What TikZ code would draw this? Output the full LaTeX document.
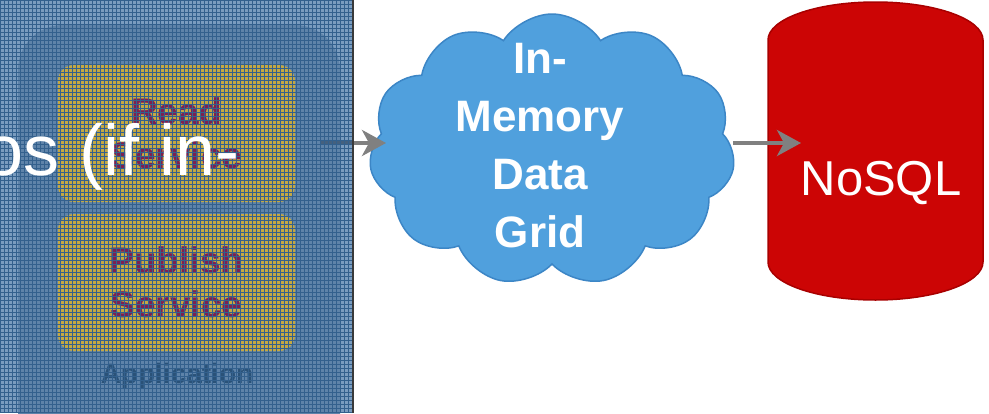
\documentclass[tikz,border=0pt]{standalone}
\usepackage{fontspec}
\setmainfont{Liberation Sans}
\usetikzlibrary{shapes.symbols,arrows.meta}
\definecolor{panelbase}{HTML}{7A9CBF}
\definecolor{appbase}{HTML}{5E83A9}
\definecolor{gridblue}{HTML}{33608D}
\definecolor{svcfill}{HTML}{C4A842}
\definecolor{svctext}{HTML}{7E2050}
\definecolor{apptext}{HTML}{2A5278}
\definecolor{cloudblue}{HTML}{50A0DD}
\definecolor{cloudedge}{HTML}{3C86C6}
\definecolor{nosqlred}{HTML}{CC0505}
\definecolor{nosqledge}{HTML}{A80000}
\definecolor{arrowgray}{HTML}{808080}
\definecolor{arrowhidden}{HTML}{44607E}
\definecolor{borderdark}{HTML}{3A3A3A}
\tikzset{
  svcbox/.style={rectangle, rounded corners=16pt, fill=svcfill, text=svctext,
    minimum width=237pt, minimum height=137pt, inner sep=0pt, align=center,
    font=\bfseries\fontsize{37}{44}\selectfont},
  conn/.style={line width=4pt, color=arrowgray,
    -{Stealth[length=24pt,width=26pt,inset=7pt]}},
  gridline/.style={line width=0.75pt, color=gridblue},
  cloudshape/.style={cloud, cloud puffs=11, cloud puff arc=115, cloud ignores aspect,
    minimum width=366pt, minimum height=272pt, fill=cloudblue, draw=cloudedge,
    line width=1.5pt, inner sep=0pt},
  cloudtext/.style={text=white, align=center, inner sep=0pt,
    font=\bfseries\fontsize{44}{58}\selectfont},
}
\begin{document}
\begin{tikzpicture}[x=1pt,y=-1pt]
\useasboundingbox (0,0) rectangle (989,413);
\fill[white] (0,0) rectangle (989,413);

% cloud
\node[cloudshape] (cloud) at (552,150) {};
\node[cloudtext] (cloudlabel) at (540,146) {In-\\Memory\\Data\\Grid};

% NoSQL cylinder
\path[fill=nosqlred, draw=nosqledge, line width=1.5pt]
  (768,262) -- (768,40)
  arc[start angle=180, end angle=360, x radius=107.5, y radius=38]
  -- (983,262)
  arc[start angle=0, end angle=180, x radius=107.5, y radius=38] -- cycle;
\node[text=white, anchor=base, inner sep=0pt, font=\fontsize{49}{55}\selectfont]
  (nosql) at (881,195) {NoSQL};

% left panel
\begin{scope}
\clip (0,0) rectangle (352,413);
\fill[panelbase] (0,0) rectangle (352,413);
\fill[appbase, rounded corners=45pt] (18,25) rectangle (340,460);
\node[svcbox] (read) at (176.5,133.5) {Read\\Service};
\node[svcbox] (publish) at (176.5,282.5) {Publish\\Service};
\node[anchor=base, text=apptext, inner sep=0pt, font=\bfseries\fontsize{28}{32}\selectfont]
  (app) at (177,383) {Application};
\end{scope}

% connectors
\coordinate (a1s) at (320,143);
\coordinate (a1p) at (352,143);
\coordinate (a1e) at (386,143);
\coordinate (a2e) at (801,143);
\draw[conn] (a1s) -- (a1e);
\draw[line width=4pt, color=arrowhidden] (a1s) -- (a1p);
\draw[conn] (cloud.east |- a1e) -- (a2e);

% grid overlay on the panel
\begin{scope}
\clip (0,0) rectangle (352,413);
\draw[gridline, step=4pt] (0,0) grid (352,413);
\end{scope}
\draw[line width=2pt, color=borderdark] (353,0) -- (353,413);

% overlay text
\node[anchor=base east, text=white, inner sep=0pt, font=\fontsize{72}{80}\selectfont]
  (overlay) at (240,175) {os (if in-};
\end{tikzpicture}
\end{document}
